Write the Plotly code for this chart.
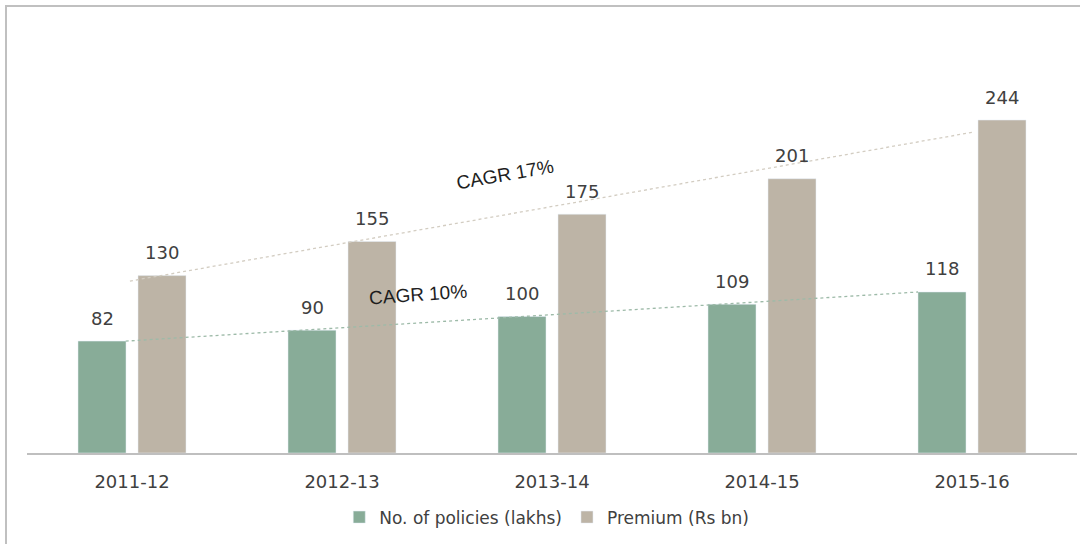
import plotly.graph_objects as go

years = ["2011-12", "2012-13", "2013-14", "2014-15", "2015-16"]
policies = [82, 90, 100, 109, 118]
premium = [130, 155, 175, 201, 244]
policies_name = "No. of policies (lakhs)"
premium_name = "Premium (Rs bn)"
cagr_labels = ["CAGR 10%", "CAGR 17%"]
# trend line end values
trend_policies = [82, 118]
trend_premium = [126, 235]

GREEN = "#88AC98"
BEIGE = "#BDB4A6"
TXT = "#404040"
FONT = "DejaVu Sans, sans-serif"
CFONT = "Liberation Sans, Arial, sans-serif"

BARGAP = 0.4286
OFF = (1 - BARGAP) / 4  # center offset of each bar within its category

fig = go.Figure()
fig.add_trace(go.Bar(x=years, y=policies, name=policies_name, marker_color=GREEN))
fig.add_trace(go.Bar(x=years, y=premium, name=premium_name, marker_color=BEIGE))

annotations = []
for i, (p, q) in enumerate(zip(policies, premium)):
    annotations.append(dict(x=i - OFF, y=p, xref="x", yref="y", text=str(p), showarrow=False,
                            yanchor="middle", yshift=23, font=dict(size=18, color=TXT, family=FONT)))
    annotations.append(dict(x=i + OFF, y=q, xref="x", yref="y", text=str(q), showarrow=False,
                            yanchor="middle", yshift=23, font=dict(size=18, color=TXT, family=FONT)))

shapes = [
    dict(type="line", xref="x", yref="y", x0=-0.03, x1=3.743,
         y0=trend_policies[0], y1=trend_policies[1],
         line=dict(color="#9DBAA8", width=1.3, dash="dot")),
    dict(type="line", xref="x", yref="y", x0=-0.01, x1=4.0,
         y0=trend_premium[0], y1=trend_premium[1],
         line=dict(color="#D3CDC2", width=1.3, dash="dot")),
    dict(type="rect", xref="paper", yref="paper", x0=-0.02, x1=1.5, y0=-0.5, y1=1.0567,
         line=dict(color="#C0C0C0", width=2), fillcolor="rgba(0,0,0,0)", layer="below"),
]

annotations += [
    dict(x=1.362, y=116, xref="x", yref="y", text=cagr_labels[0], showarrow=False,
         textangle=-4, font=dict(size=19, color="#1E1E1E", family=CFONT)),
    dict(x=1.776, y=204, xref="x", yref="y", text=cagr_labels[1], showarrow=False,
         textangle=-10, font=dict(size=19, color="#1E1E1E", family=CFONT)),
]

fig.update_layout(
    width=1080, height=544,
    margin=dict(l=27, r=3, t=30, b=91),
    paper_bgcolor="white", plot_bgcolor="white",
    barmode="group", bargap=BARGAP, bargroupgap=0.2,
    shapes=shapes, annotations=annotations,
    showlegend=True,
    legend=dict(orientation="h", x=0.495, xanchor="center", y=-0.11, yanchor="top",
                font=dict(size=17, color=TXT, family=FONT), itemwidth=30),
    xaxis=dict(type="category", showline=True, linecolor="#BFBFBF", linewidth=1.5, ticks="",
               ticklabelstandoff=12,
               tickfont=dict(size=18, color=TXT, family=FONT), showgrid=False),
    yaxis=dict(range=[0, 310], visible=False, showgrid=False),
)

fig.write_html("out.html", config={"displayModeBar": False},
               post_script="document.body.style.margin='0';document.body.style.overflow='hidden';")
